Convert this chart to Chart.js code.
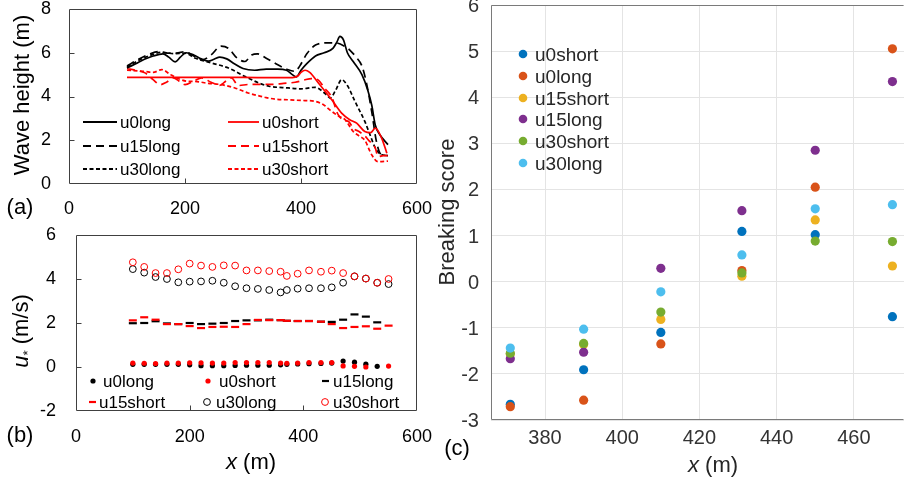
<!DOCTYPE html>
<html><head><meta charset="utf-8">
<script src="https://cdn.jsdelivr.net/npm/chart.js@4.4.1/dist/chart.umd.min.js"></script>
<style>
html,body{margin:0;padding:0;background:#fff;}
body{width:904px;height:483px;overflow:hidden;position:relative;font-family:"Liberation Sans",Arial,sans-serif;}
.c{position:absolute;}
.c canvas{display:block;}
.t{position:absolute;white-space:nowrap;color:#000;line-height:1;font-size:22px;}
.rot{transform:translate(-50%,-50%) rotate(-90deg);}
.ctr{transform:translate(-50%,-50%);}
.lg{position:absolute;white-space:nowrap;line-height:1;transform:translateY(-50%);}
.yl{position:absolute;z-index:20;white-space:nowrap;line-height:20px;height:20px;text-align:right;width:30px;font-size:20px;color:#333;}
svg.m{position:absolute;overflow:visible;}
</style></head><body>
<div class="c" style="left:0;top:0;width:440px;height:215px"><canvas id="ca" width="440" height="215"></canvas></div>
<div class="c" style="left:0;top:215px;width:440px;height:268px"><canvas id="cb" width="440" height="268"></canvas></div>
<div class="c" style="left:420px;top:0;width:484px;height:483px"><canvas id="cc" width="484" height="483"></canvas></div>

<div class="t rot" style="left:22px;top:95px">Wave height (m)</div>
<div class="t ctr" style="left:20px;top:207px">(a)</div>
<div class="t rot" style="left:22px;top:331px"><i>u</i><span style="font-size:60%;vertical-align:-0.25em">*</span> (m/s)</div>
<div class="t ctr" style="left:20px;top:435px">(b)</div>
<div class="t ctr" style="left:251px;top:462px"><i>x</i> (m)</div>
<div class="t rot" style="left:447px;top:212px;color:#262626">Breaking score</div>
<div class="t ctr" style="left:457px;top:448px">(c)</div>
<div class="t ctr" style="left:713px;top:465px;color:#262626"><i>x</i> (m)</div>

<script>
// ---------- Panel (a): wave height along x ----------
const A_XTICKS = [0, 200, 400, 600];
const A_YTICKS = [0, 2, 4, 6, 8];
const A_NAMES = ['u0long', 'u0short', 'u15long', 'u15short', 'u30long', 'u30short'];

const u0longX = [100,115,130,145,162,172,183,192,202,215,228,240,250,260,272,285,300,320,340,360,375,385,392,400,410,425,440,455,462,467,473,480,490,505,515,522,528,536,550];
const u0longH = [5.3,5.5,5.7,5.85,5.95,5.8,5.58,5.8,6.0,5.9,5.72,5.62,5.7,5.8,5.72,5.5,5.28,5.2,5.25,5.25,5.2,5.0,4.9,5.2,5.5,5.85,6.0,6.2,6.5,6.75,6.6,6.0,5.6,5.0,4.3,3.6,2.7,2.25,1.8];
const u0shortX = [100,150,200,250,300,350,385,395,400,407,415,430,453,470,484,496,510,520,528,539,548];
const u0shortH = [4.87,4.87,4.87,4.87,4.87,4.86,4.86,4.95,5.1,5.2,5.1,4.62,3.85,3.24,2.94,2.78,2.4,2.35,2.55,2.1,1.41];
const u15longX = [100,120,140,155,170,185,200,215,230,245,262,275,290,303,315,325,340,360,378,390,398,410,425,445,460,475,485,495,505,513,522,530,538,550];
const u15longH = [5.4,5.7,5.95,6.05,5.98,5.98,6.05,5.85,5.68,5.9,6.3,6.2,5.75,5.6,5.9,5.95,5.75,5.45,5.22,5.15,5.4,5.95,6.35,6.45,6.45,6.3,6.1,5.8,5.4,4.6,3.3,1.95,1.35,1.3];
const u15shortX = [100,115,131,145,157,168,180,190,200,215,229,245,260,270,280,292,310,329,350,370,390,405,418,430,440,453,464,476,482,490,500,510,516,522,528,533,542,550];
const u15shortH = [5.27,5.2,5.08,4.77,4.54,4.65,4.85,4.7,4.54,4.7,4.85,4.65,4.51,4.7,4.85,4.5,4.55,4.55,4.55,4.6,4.65,4.75,4.82,4.75,4.4,3.97,3.17,2.9,2.86,2.55,2.4,2.2,2.02,1.85,1.65,1.25,1.3,1.3];
const u30longX = [100,120,140,160,180,200,217,246,275,303,329,345,378,400,424,444,450,460,470,480,493,510,519,528,538,550];
const u30longH = [5.35,5.65,5.88,6.02,5.96,5.98,5.76,5.53,5.3,4.92,4.6,4.47,4.39,4.35,4.42,4.08,3.93,4.3,4.77,4.5,3.78,2.86,2.25,1.65,1.35,1.3];
const u30shortX = [100,130,145,160,175,190,203,217,240,263,286,309,329,340,358,378,400,424,440,453,465,476,490,500,510,522,533,550];
const u30shortH = [5.2,5.15,5.1,5.23,5.0,4.8,4.7,4.69,4.6,4.54,4.39,4.16,4.02,3.95,3.87,3.85,3.82,3.78,3.6,3.32,3.1,2.94,2.4,2.2,2.0,1.33,1.02,1.05];

// ---------- Panel (b): friction velocity ----------
const B_XTICKS = [0, 200, 400, 600];
const B_YTICKS = [-2, 0, 2, 4, 6];
const B_X = [100,120,140,160,180,200,220,240,260,280,300,320,340,360,371,390,410,431,450,470,490,510,530,550];
const B_U0LONG  = [0.12,0.12,0.12,0.12,0.12,0.1,0.06,0.06,0.06,0.07,0.08,0.08,0.08,0.1,0.12,0.14,0.15,0.16,0.18,0.27,0.22,0.13,0.03,null];
const B_U0SHORT = [0.18,0.17,0.16,0.18,0.18,0.19,0.19,0.18,0.18,0.2,0.2,0.2,0.2,0.18,0.17,0.18,0.2,0.2,0.2,0.05,0.03,0.0,null,0.04];
const B_U15LONG = [1.99,2.0,2.08,1.98,1.95,2.0,1.95,1.97,2.0,2.09,2.12,2.12,2.15,2.13,2.1,2.09,2.09,2.06,2.05,2.15,2.39,2.29,2.03,null];
const B_U15SHORT= [2.12,2.26,2.15,1.95,1.95,1.86,1.77,1.82,1.83,1.82,1.95,2.14,2.13,2.13,2.1,2.09,2.09,2.06,1.95,1.77,1.82,1.85,1.74,1.88];
const B_U30LONG = [4.45,4.29,4.09,4.0,3.85,3.88,3.89,3.92,3.83,3.67,3.58,3.55,3.5,3.39,3.5,3.56,3.58,3.58,3.62,3.83,4.12,4.02,3.83,3.77];
const B_U30SHORT= [4.76,4.55,4.27,4.27,4.44,4.7,4.61,4.55,4.62,4.61,4.39,4.39,4.36,4.33,4.14,4.24,4.39,4.33,4.38,4.27,4.12,4.02,3.83,4.0];

// ---------- Panel (c): breaking score ----------
const C_XTICKS = [380, 400, 420, 440, 460];
const C_YTICKS = [-3, -2, -1, 0, 1, 2, 3, 4, 5, 6];
const C_X = [371, 390, 410, 431, 450, 470];
const C_NAMES = ['u0short', 'u0long', 'u15short', 'u15long', 'u30short', 'u30long'];
const C_U0SHORT  = [-2.66, -1.91, -1.10, 1.09, 1.02, -0.76];
const C_U0LONG   = [-2.71, -2.57, -1.35, 0.24, 2.05, 5.05];
const C_U15SHORT = [-1.57, -1.36, -0.82, 0.12, 1.34, 0.34];
const C_U15LONG  = [-1.67, -1.53, 0.29, 1.54, 2.85, 4.34];
const C_U30SHORT = [-1.55, -1.34, -0.66, 0.19, 0.88, 0.87];
const C_U30LONG  = [-1.44, -1.03, -0.22, 0.58, 1.58, 1.67];
const C_COLORS = ['#0072BD', '#D95319', '#EDB120', '#7E2F8E', '#77AC30', '#4DBEEE'];

// ---------- helpers ----------
Chart.defaults.font.family = '"Liberation Sans", Arial, sans-serif';
Chart.defaults.animation = false;
const RED = '#ff0000', BLACK = '#000000';
const zip = (xs, ys) => xs.map((x, i) => ({x: x, y: ys[i]}));
const setTicks = arr => (s => { s.ticks = arr.map(v => ({value: v})); });

const framePlugin = {
  id: 'frame',
  afterDraw(chart, args, o) {
    const {ctx, chartArea: a, scales} = chart;
    ctx.save();
    ctx.strokeStyle = o.color; ctx.lineWidth = 1;
    ctx.beginPath();
    const L = Math.round(a.left) + 0.5, R = Math.round(a.right) - 0.5, T = Math.round(a.top) + 0.5, B = Math.round(a.bottom) - 0.5;
    if (o.sides.includes('l')) { ctx.moveTo(L, T); ctx.lineTo(L, B); }
    if (o.sides.includes('r')) { ctx.moveTo(R, T); ctx.lineTo(R, B); }
    if (o.sides.includes('t')) { ctx.moveTo(L, T); ctx.lineTo(R, T); }
    if (o.sides.includes('b')) { ctx.moveTo(L, B); ctx.lineTo(R, B); }
    (o.xTicks || []).forEach(v => { const p = Math.round(scales.x.getPixelForValue(v)) + 0.5; ctx.moveTo(p, B); ctx.lineTo(p, B - o.len); });
    (o.yTicks || []).forEach(v => { const p = Math.round(scales.y.getPixelForValue(v)) + 0.5; ctx.moveTo(L, p); ctx.lineTo(L + o.len, p); });
    ctx.stroke();
    ctx.restore();
  }
};

function axis(min, max, ticks, size, color, pad, fitProp, fitVal, grid, showLabels) {
  return {
    type: 'linear', min: min, max: max,
    afterBuildTicks: setTicks(ticks),
    ticks: {display: showLabels !== false, font: {size: size}, color: color, padding: pad, maxRotation: 0, autoSkip: false, z: 2},
    grid: grid || {display: false, drawTicks: false},
    border: {display: false},
    afterFit: s => {
      s[fitProp] = fitVal;
      s.paddingTop = 0; s.paddingBottom = 0; s.paddingLeft = 0; s.paddingRight = 0;
    }
  };
}

// ---------- chart (a) ----------
const lineDs = (label, xs, ys, color, dash, order) => ({
  label: label, data: zip(xs, ys), borderColor: color, backgroundColor: color,
  borderWidth: 1.7, borderDash: dash, pointRadius: 0, fill: false,
  cubicInterpolationMode: 'monotone', order: order
});
new Chart(document.getElementById('ca'), {
  type: 'line',
  data: {datasets: [
    lineDs(A_NAMES[0], u0longX, u0longH, BLACK, [], 2),
    lineDs(A_NAMES[1], u0shortX, u0shortH, RED, [], 1),
    lineDs(A_NAMES[2], u15longX, u15longH, BLACK, [8, 5], 4),
    lineDs(A_NAMES[3], u15shortX, u15shortH, RED, [8, 5], 3),
    lineDs(A_NAMES[4], u30longX, u30longH, BLACK, [4, 2.5], 6),
    lineDs(A_NAMES[5], u30shortX, u30shortH, RED, [4, 2.5], 5)
  ]},
  options: {
    responsive: false, devicePixelRatio: 1,
    layout: {padding: {left: 0, right: 23, top: 9, bottom: 0}, autoPadding: false},
    plugins: {legend: {display: false}, tooltip: {enabled: false},
      frame: {color: '#404040', sides: 'lrtb', xTicks: [200, 400], yTicks: [2, 4, 6], len: 5}},
    scales: {
      x: axis(0, 600, A_XTICKS, 18, '#000', 14, 'height', 31),
      y: axis(0, 8, A_YTICKS, 18, '#000', 18, 'width', 69)
    }
  },
  plugins: [framePlugin]
});

// ---------- chart (b) ----------
const ptDs = (label, ys, color, style, r, bw, filled, order) => ({
  label: label, data: zip(B_X, ys), showLine: false,
  pointStyle: style, pointRadius: r, pointBorderWidth: bw,
  pointBorderColor: color, pointBackgroundColor: filled ? color : 'rgba(0,0,0,0)',
  borderColor: color, backgroundColor: filled ? color : 'rgba(0,0,0,0)', order: order
});
new Chart(document.getElementById('cb'), {
  type: 'scatter',
  data: {datasets: [
    ptDs('u0long', B_U0LONG, BLACK, 'circle', 2.6, 0, true, 2),
    ptDs('u0short', B_U0SHORT, RED, 'circle', 2.6, 0, true, 1),
    ptDs('u15long', B_U15LONG, BLACK, 'line', 4, 2.2, true, 4),
    ptDs('u15short', B_U15SHORT, RED, 'line', 4, 2.2, true, 3),
    ptDs('u30long', B_U30LONG, BLACK, 'circle', 3.4, 1, false, 6),
    ptDs('u30short', B_U30SHORT, RED, 'circle', 3.4, 1, false, 5)
  ]},
  options: {
    responsive: false, devicePixelRatio: 1,
    layout: {padding: {left: 0, right: 23, top: 20, bottom: 0}, autoPadding: false},
    plugins: {legend: {display: false}, tooltip: {enabled: false},
      frame: {color: '#404040', sides: 'lrtb', xTicks: [200, 400], yTicks: [0, 2, 4], len: 5}},
    scales: {
      x: axis(0, 600, B_XTICKS, 18, '#000', 15.5, 'height', 72),
      y: axis(-2, 6, B_YTICKS, 18, '#000', 20, 'width', 76)
    }
  },
  plugins: [framePlugin]
});

// ---------- chart (c) ----------
const C_SERIES = [C_U0SHORT, C_U0LONG, C_U15SHORT, C_U15LONG, C_U30SHORT, C_U30LONG];
const chartC = new Chart(document.getElementById('cc'), {
  type: 'scatter',
  data: {datasets: C_SERIES.map((ys, i) => ({
    label: C_NAMES[i], data: zip(C_X, ys), pointRadius: 4.6, pointBorderWidth: 0,
    pointBackgroundColor: C_COLORS[i], backgroundColor: C_COLORS[i], borderColor: C_COLORS[i],
    order: 6 - i
  }))},
  options: {
    responsive: false, devicePixelRatio: 1,
    layout: {padding: {left: 0, right: 0, top: 5, bottom: 0}, autoPadding: false},
    plugins: {legend: {display: false}, tooltip: {enabled: false},
      frame: {color: '#7a7a7a', sides: 'ltb', len: 0}},
    scales: {
      x: axis(366, 473, C_XTICKS, 20, '#333', 6.3, 'height', 63, {display: true, drawTicks: false, color: '#e4e4e4', lineWidth: 1}),
      y: axis(-3, 6, C_YTICKS, 20, '#333', 12, 'width', 71, {display: true, drawTicks: false, color: '#e4e4e4', lineWidth: 1}, false)
    }
  },
  plugins: [framePlugin]
});
// y tick labels of panel (c) as page text, placed by the chart's own y scale
(function () {
  const sy = chartC.scales.y;
  const xRight = 420 + sy.right - 12;
  C_YTICKS.forEach(v => {
    const d = document.createElement('div');
    d.className = 'yl'; d.textContent = String(v);
    d.style.left = (xRight - 30) + 'px';
    d.style.top = (sy.getPixelForValue(v) - 10) + 'px';
    document.body.appendChild(d);
  });
})();

// ---------- HTML legends ----------
const SVGNS = 'http://www.w3.org/2000/svg';
function marker(kind, cx, cy, color, opt) {
  const s = document.createElementNS(SVGNS, 'svg');
  s.setAttribute('class', 'm');
  let w, h = 10;
  if (kind === 'line') { w = opt.len; } else { w = 12; }
  s.setAttribute('width', w); s.setAttribute('height', h);
  s.style.left = (kind === 'line' ? cx : cx - w / 2) + 'px';
  s.style.top = (cy - h / 2) + 'px';
  let el;
  if (kind === 'line') {
    el = document.createElementNS(SVGNS, 'line');
    el.setAttribute('x1', 0); el.setAttribute('x2', w); el.setAttribute('y1', h / 2); el.setAttribute('y2', h / 2);
    el.setAttribute('stroke', color); el.setAttribute('stroke-width', opt.lw || 1.8);
    if (opt.dash) el.setAttribute('stroke-dasharray', opt.dash);
  } else {
    el = document.createElementNS(SVGNS, 'circle');
    el.setAttribute('cx', w / 2); el.setAttribute('cy', h / 2); el.setAttribute('r', opt.r);
    if (opt.filled) { el.setAttribute('fill', color); }
    else { el.setAttribute('fill', 'none'); el.setAttribute('stroke', color); el.setAttribute('stroke-width', 1); }
  }
  s.appendChild(el);
  document.body.appendChild(s);
}
function label(text, x, y, size, color) {
  const d = document.createElement('div');
  d.className = 'lg'; d.textContent = text;
  d.style.left = x + 'px'; d.style.top = y + 'px'; d.style.fontSize = size + 'px'; d.style.color = color;
  document.body.appendChild(d);
}
// panel (a) legend
const aLeg = [
  [0, 83, 122, 34, BLACK, null, 120], [1, 228, 122, 31, RED, null, 262],
  [2, 83, 146, 34, BLACK, '8 5', 120], [3, 228, 146, 31, RED, '8 5', 262],
  [4, 83, 169, 34, BLACK, '4 2.5', 120], [5, 228, 169, 31, RED, '4 2.5', 262]
];
aLeg.forEach(r => { marker('line', r[1], r[2], r[4], {len: r[3], dash: r[5]}); label(A_NAMES[r[0]], r[6], r[2], 17, '#000'); });
// panel (b) legend
const bLeg = [
  ['u0long', 'dot', 93, 381, BLACK, 103], ['u0short', 'dot', 208, 381, RED, 219], ['u15long', 'dash', 322, 381, BLACK, 333],
  ['u15short', 'dash', 89, 402, RED, 99], ['u30long', 'ring', 207, 402, BLACK, 216], ['u30short', 'ring', 325, 402, RED, 333]
];
bLeg.forEach(r => {
  if (r[1] === 'dot') marker('circle', r[2], r[3], r[4], {r: 2.6, filled: true});
  else if (r[1] === 'ring') marker('circle', r[2], r[3], r[4], {r: 3.4, filled: false});
  else marker('line', r[2], r[3], r[4], {len: 7, lw: 2.2});
  label(r[0], r[5], r[3], 17, '#000');
});
// panel (c) legend
C_NAMES.forEach((n, i) => {
  const y = 54.3 + i * 21.7;
  marker('circle', 523, y, C_COLORS[i], {r: 4.3, filled: true});
  label(n, 535, y, 19, '#262626');
});
</script>
</body></html>
